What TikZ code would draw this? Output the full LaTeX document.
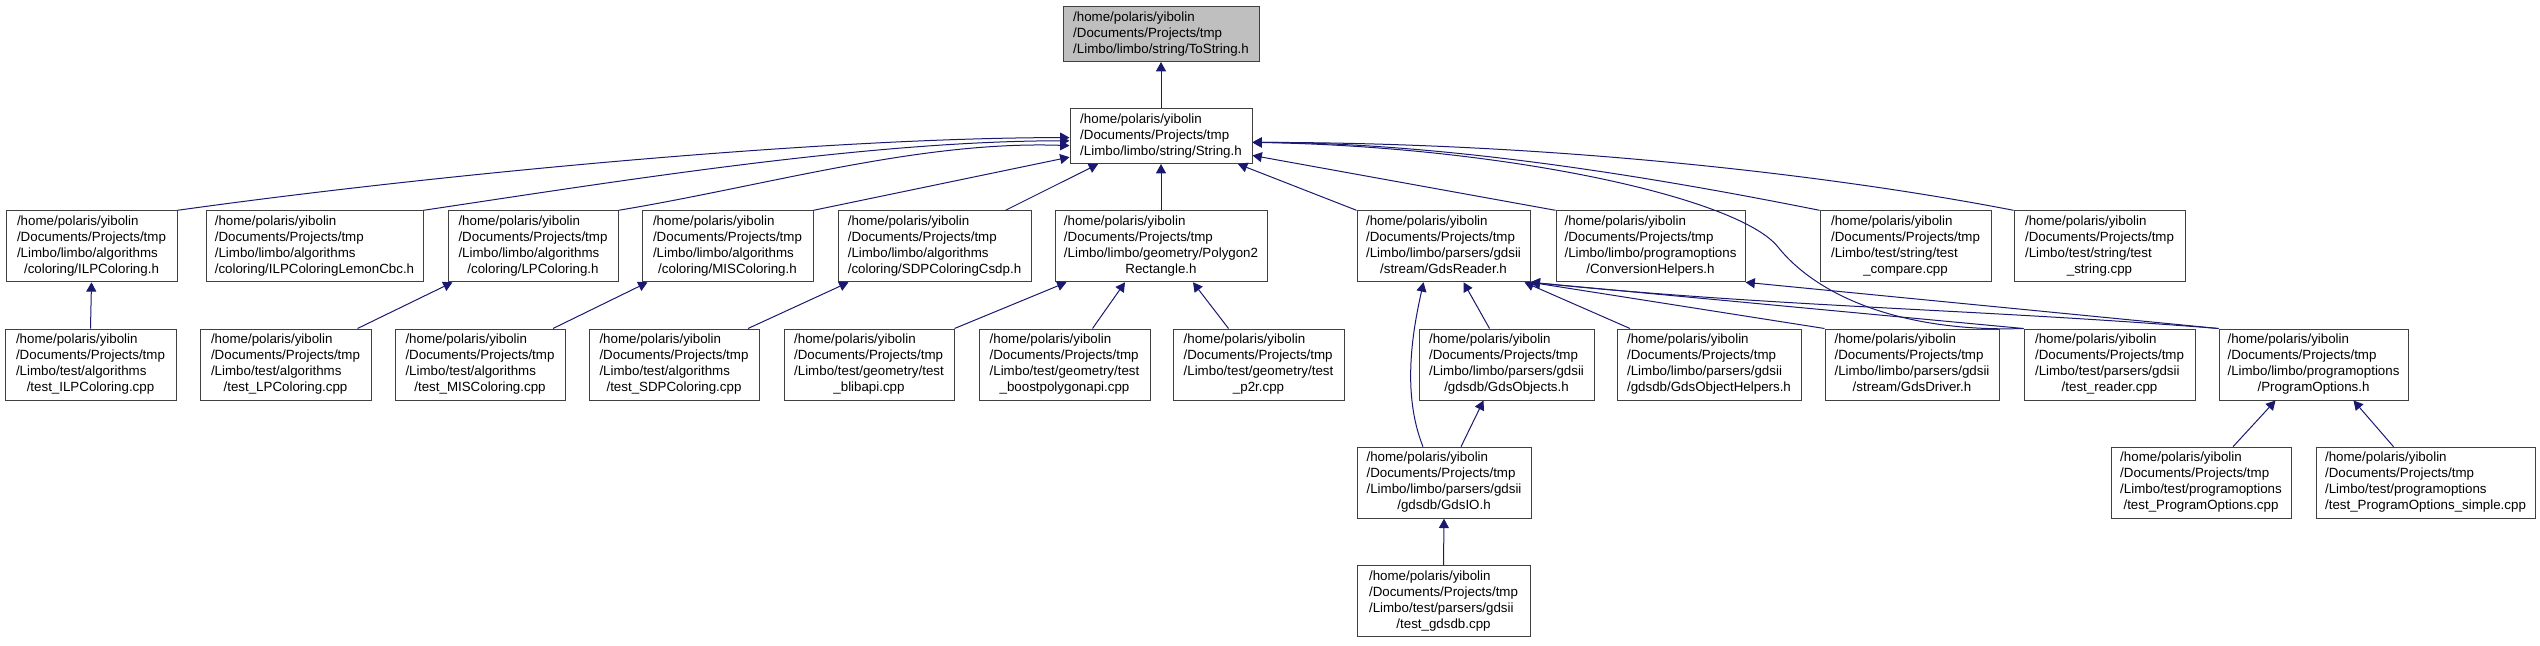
\documentclass[tikz,border=0pt]{standalone}
\usepackage{fontspec}
\setmainfont{Liberation Sans}
\usetikzlibrary{arrows.meta,positioning,calc}
\definecolor{Edge}{RGB}{25,25,112}
\definecolor{Border}{RGB}{64,64,64}
\definecolor{RootBg}{RGB}{191,191,191}
\newcommand{\fpath}[2]{\begin{tabular}{@{}l@{}}#1\\\multicolumn{1}{@{}c@{}}{#2}\end{tabular}}
\newcommand{\pre}{/home/polaris/yibolin\\/Documents/Projects/tmp}
\tikzset{
  fnode/.style={rectangle,draw=Border,fill=white,line width=0.75bp,
                font=\fontsize{10bp}{12bp}\selectfont,inner sep=0pt,
                minimum height=71*0.75bp},
  fhdr/.style={fnode,minimum height=55*0.75bp},
  froot/.style={fhdr,fill=RootBg},
  wd/.style={minimum width=#1*0.75bp},
  fedge/.style={-{Triangle[length=7bp,width=7.5bp]},Edge,line width=0.75bp},
}

\begin{document}
\begin{tikzpicture}[x=0.75bp,y=0.75bp]
  \useasboundingbox (0,0) rectangle (2540,-645);
  % root and String.h
  \node[froot,wd=196] (tostr) at (1161,-34) {\fpath{\pre}{/Limbo/limbo/string/ToString.h}};
  \node[fhdr,wd=182] (str) at (1161,-136) {\fpath{\pre}{/Limbo/limbo/string/String.h}};
  % second row
  \node[fnode,wd=171] (ilpc) at (91.5,-246.3) {\fpath{\pre\\/Limbo/limbo/algorithms}{/coloring/ILPColoring.h}};
  \node[fnode,wd=217] (lemon) at (314.5,-246.3) {\fpath{\pre\\/Limbo/limbo/algorithms}{/coloring/ILPColoringLemonCbc.h}};
  \node[fnode,wd=170] (lpc) at (533,-246.3) {\fpath{\pre\\/Limbo/limbo/algorithms}{/coloring/LPColoring.h}};
  \node[fnode,wd=171] (misc) at (727.5,-246.3) {\fpath{\pre\\/Limbo/limbo/algorithms}{/coloring/MISColoring.h}};
  \node[fnode,wd=193] (sdp) at (934.5,-246.3) {\fpath{\pre\\/Limbo/limbo/algorithms}{/coloring/SDPColoringCsdp.h}};
  \node[fnode,wd=212] (p2r) at (1161,-246.3) {\fpath{\pre\\/Limbo/limbo/geometry/Polygon2}{Rectangle.h}};
  \node[fnode,wd=173] (gdsrd) at (1443.5,-246.3) {\fpath{\pre\\/Limbo/limbo/parsers/gdsii}{/stream/GdsReader.h}};
  \node[fnode,wd=189] (convh) at (1650.5,-246.3) {\fpath{\pre\\/Limbo/limbo/programoptions}{/ConversionHelpers.h}};
  \node[fnode,wd=171] (tcmp) at (1905.5,-246.3) {\fpath{\pre\\/Limbo/test/string/test}{\_compare.cpp}};
  \node[fnode,wd=171] (tstr) at (2099.5,-246.3) {\fpath{\pre\\/Limbo/test/string/test}{\_string.cpp}};
  % third row
  \node[fnode,wd=171] (tilpc) at (90.5,-364.5) {\fpath{\pre\\/Limbo/test/algorithms}{/test\_ILPColoring.cpp}};
  \node[fnode,wd=171] (tlpc) at (285.5,-364.5) {\fpath{\pre\\/Limbo/test/algorithms}{/test\_LPColoring.cpp}};
  \node[fnode,wd=170] (tmisc) at (480,-364.5) {\fpath{\pre\\/Limbo/test/algorithms}{/test\_MISColoring.cpp}};
  \node[fnode,wd=170] (tsdp) at (674,-364.5) {\fpath{\pre\\/Limbo/test/algorithms}{/test\_SDPColoring.cpp}};
  \node[fnode,wd=170] (tbli) at (869,-364.5) {\fpath{\pre\\/Limbo/test/geometry/test}{\_blibapi.cpp}};
  \node[fnode,wd=171] (tboost) at (1064.5,-364.5) {\fpath{\pre\\/Limbo/test/geometry/test}{\_boostpolygonapi.cpp}};
  \node[fnode,wd=171] (tp2r) at (1258.5,-364.5) {\fpath{\pre\\/Limbo/test/geometry/test}{\_p2r.cpp}};
  \node[fnode,wd=175] (gdsobj) at (1506.5,-364.5) {\fpath{\pre\\/Limbo/limbo/parsers/gdsii}{/gdsdb/GdsObjects.h}};
  \node[fnode,wd=184] (gdshlp) at (1709,-364.5) {\fpath{\pre\\/Limbo/limbo/parsers/gdsii}{/gdsdb/GdsObjectHelpers.h}};
  \node[fnode,wd=174] (gdsdrv) at (1912,-364.5) {\fpath{\pre\\/Limbo/limbo/parsers/gdsii}{/stream/GdsDriver.h}};
  \node[fnode,wd=171] (trd) at (2109.5,-364.5) {\fpath{\pre\\/Limbo/test/parsers/gdsii}{/test\_reader.cpp}};
  \node[fnode,wd=189] (popt) at (2313.5,-364.5) {\fpath{\pre\\/Limbo/limbo/programoptions}{/ProgramOptions.h}};
  % fourth and fifth rows
  \node[fnode,wd=174] (gdsio) at (1444,-482.7) {\fpath{\pre\\/Limbo/limbo/parsers/gdsii}{/gdsdb/GdsIO.h}};
  \node[fnode,wd=180] (tpo) at (2201,-482.7) {\fpath{\pre\\/Limbo/test/programoptions}{/test\_ProgramOptions.cpp}};
  \node[fnode,wd=219] (tposimple) at (2425.5,-482.7) {\fpath{\pre\\/Limbo/test/programoptions}{/test\_ProgramOptions\_simple.cpp}};
  \node[fnode,wd=173] (tgdsdb) at (1443.5,-601) {\fpath{\pre\\/Limbo/test/parsers/gdsii}{/test\_gdsdb.cpp}};
  % includes
  \draw[fedge] (str.north) -- (tostr.south);
  \draw[fedge] (ilpc.north east) .. controls +(250,35) and +(-250,0) .. (str.181);
  \draw[fedge] (lemon.north east) .. controls +(200,30) and +(-200,0) .. (str.183);
  \draw[fedge] (lpc.north east) .. controls +(150,25) and +(-150,5) .. (str.186);
  \draw[fedge] (misc.north east) -- (str.193);
  \draw[fedge] ($(sdp.north)+(71,0)$) -- (str.204);
  \draw[fedge] (p2r.north) -- (str.south);
  \draw[fedge] (gdsrd.north west) -- (str.340);
  \draw[fedge] (convh.north west) -- (str.348);
  \draw[fedge] (tcmp.north west) .. controls +(-150,30) and +(200,0) .. (str.356);
  \draw[fedge] (tstr.north west) .. controls +(-180,35) and +(300,0) .. (str.356);
  \draw[fedge] (trd.north west) .. controls +(-120,-4) and +(40,-50) .. (1778,-247)
                .. controls +(-40,50) and +(250,-4) .. (str.356);
  \draw[fedge] (tilpc.north) -- (ilpc.south);
  \draw[fedge] ($(tlpc.north)+(72,0)$) -- ($(lpc.south west)+(5,0)$);
  \draw[fedge] ($(tmisc.north)+(73,0)$) -- ($(misc.south west)+(6,0)$);
  \draw[fedge] ($(tsdp.north)+(74,0)$) -- ($(sdp.south west)+(11,0)$);
  \draw[fedge] (tbli.north east) -- ($(p2r.south west)+(12,0)$);
  \draw[fedge] ($(tboost.north)+(28,0)$) -- ($(p2r.south)+(-36,0)$);
  \draw[fedge] ($(tp2r.north)+(-30,0)$) -- ($(p2r.south)+(32,0)$);
  \draw[fedge] ($(gdsio.north)+(-21,0)$) .. controls +(-22,55) and +(-10,-45) .. ($(gdsrd.south)+(-20,0)$);
  \draw[fedge] ($(gdsobj.north)+(-17,0)$) -- ($(gdsrd.south)+(20,0)$);
  \draw[fedge] ($(gdshlp.north)+(-79,0)$) -- ($(gdsrd.south east)+(-6,0)$);
  \draw[fedge] (gdsdrv.north west) -- (gdsrd.south east);
  \draw[fedge] (trd.north west) -- (gdsrd.south east);
  \draw[fedge] (popt.north west) .. controls +(-250,20) and +(250,-25) .. (gdsrd.south east);
  \draw[fedge] (popt.north west) -- (convh.south east);
  \draw[fedge] ($(gdsio.north)+(17,0)$) -- ($(gdsobj.south)+(-23,0)$);
  \draw[fedge] (tgdsdb.north) -- (gdsio.south);
  \draw[fedge] ($(tpo.north)+(32,0)$) -- ($(popt.south)+(-38,0)$);
  \draw[fedge] ($(tposimple.north)+(-32,0)$) -- ($(popt.south)+(40,0)$);
\end{tikzpicture}
\end{document}
